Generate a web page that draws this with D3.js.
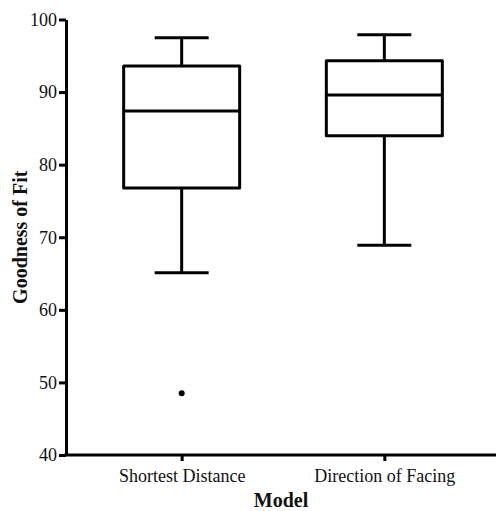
<!DOCTYPE html>
<html lang="en">
<head>
  <meta charset="UTF-8">
  <title>Goodness of Fit by Model</title>
  <script src="https://d3js.org/d3.v7.min.js"></script>
  <style>
    body {
      margin: 0;
      padding: 0;
      background: #fff;
    }
    svg text {
      font-family: "Liberation Serif", "Times New Roman", serif;
      fill: #111;
    }
    .axis-title {
      font-weight: bold;
      font-size: 20px;
    }
    .box {
      fill: none;
      stroke: #000;
      stroke-width: 3;
      stroke-linejoin: round;
    }
  </style>
</head>
<body>
  <div id="chart"></div>

  <script>
    const categories = ["Shortest Distance", "Direction of Facing"];
    const whiskerLow = [65.1, 68.9];
    const q1 = [76.8, 84.0];
    const median = [87.4, 89.6];
    const q3 = [93.6, 94.3];
    const whiskerHigh = [97.5, 97.9];
    const outliers = [[48.5], []];
    const yTicks = [40, 50, 60, 70, 80, 90, 100];

    const width = 496, height = 511;
    const margin = { left: 66, right: 496, top: 19.5, bottom: 455 };
    const boxWidth = 116, capWidth = 54;
    const serif = "'Liberation Serif', 'Times New Roman', serif";

    const svg = d3.select("#chart").append("svg")
      .attr("width", width)
      .attr("height", height)
      .style("display", "block");

    const y = d3.scaleLinear().domain([40, 100]).range([margin.bottom, margin.top]);
    const x = d3.scalePoint().domain(categories).range([70, margin.right]).padding(0.551);

    // y axis
    const yAxis = svg.append("g")
      .attr("transform", `translate(${margin.left},0)`)
      .call(d3.axisLeft(y).tickValues(yTicks).tickSize(7).tickPadding(2).tickSizeOuter(0))
      .attr("font-family", serif)
      .attr("font-size", 18);
    yAxis.select(".domain").attr("stroke", "#000").attr("stroke-width", 3);
    yAxis.selectAll(".tick line").attr("stroke", "#000").attr("stroke-width", 3);
    yAxis.selectAll(".tick text").attr("fill", "#111");

    // x axis
    const xAxis = svg.append("g")
      .attr("transform", `translate(0,${margin.bottom})`)
      .call(d3.axisBottom(x).tickSize(6).tickPadding(8).tickSizeOuter(0))
      .attr("font-family", serif)
      .attr("font-size", 18);
    xAxis.select(".domain").attr("d", `M${margin.left - 1.5},0H${margin.right}`)
      .attr("stroke", "#000").attr("stroke-width", 3);
    xAxis.selectAll(".tick line").attr("stroke", "#000").attr("stroke-width", 3);
    xAxis.selectAll(".tick text").attr("fill", "#111");

    // boxes
    categories.forEach((c, i) => {
      const cx = x(c);
      const g = svg.append("g");
      g.append("line").attr("class", "box")
        .attr("x1", cx).attr("x2", cx)
        .attr("y1", y(q3[i])).attr("y2", y(whiskerHigh[i]));
      g.append("line").attr("class", "box")
        .attr("x1", cx).attr("x2", cx)
        .attr("y1", y(q1[i])).attr("y2", y(whiskerLow[i]));
      g.append("line").attr("class", "box")
        .attr("x1", cx - capWidth / 2).attr("x2", cx + capWidth / 2)
        .attr("y1", y(whiskerHigh[i])).attr("y2", y(whiskerHigh[i]));
      g.append("line").attr("class", "box")
        .attr("x1", cx - capWidth / 2).attr("x2", cx + capWidth / 2)
        .attr("y1", y(whiskerLow[i])).attr("y2", y(whiskerLow[i]));
      g.append("rect").attr("class", "box")
        .attr("x", cx - boxWidth / 2).attr("width", boxWidth)
        .attr("y", y(q3[i])).attr("height", y(q1[i]) - y(q3[i]));
      g.append("line").attr("class", "box")
        .attr("x1", cx - boxWidth / 2).attr("x2", cx + boxWidth / 2)
        .attr("y1", y(median[i])).attr("y2", y(median[i]));
      g.selectAll("circle")
        .data(outliers[i])
        .enter().append("circle")
        .attr("cx", cx)
        .attr("cy", d => y(d))
        .attr("r", 3)
        .attr("fill", "#000");
    });

    // axis titles
    svg.append("text")
      .attr("class", "axis-title")
      .attr("x", (margin.left + margin.right) / 2)
      .attr("y", 507)
      .attr("text-anchor", "middle")
      .text("Model");

    svg.append("text")
      .attr("class", "axis-title")
      .attr("transform", `translate(27,${(margin.top + margin.bottom) / 2}) rotate(-90)`)
      .attr("text-anchor", "middle")
      .text("Goodness of Fit");
  </script>
</body>
</html>
